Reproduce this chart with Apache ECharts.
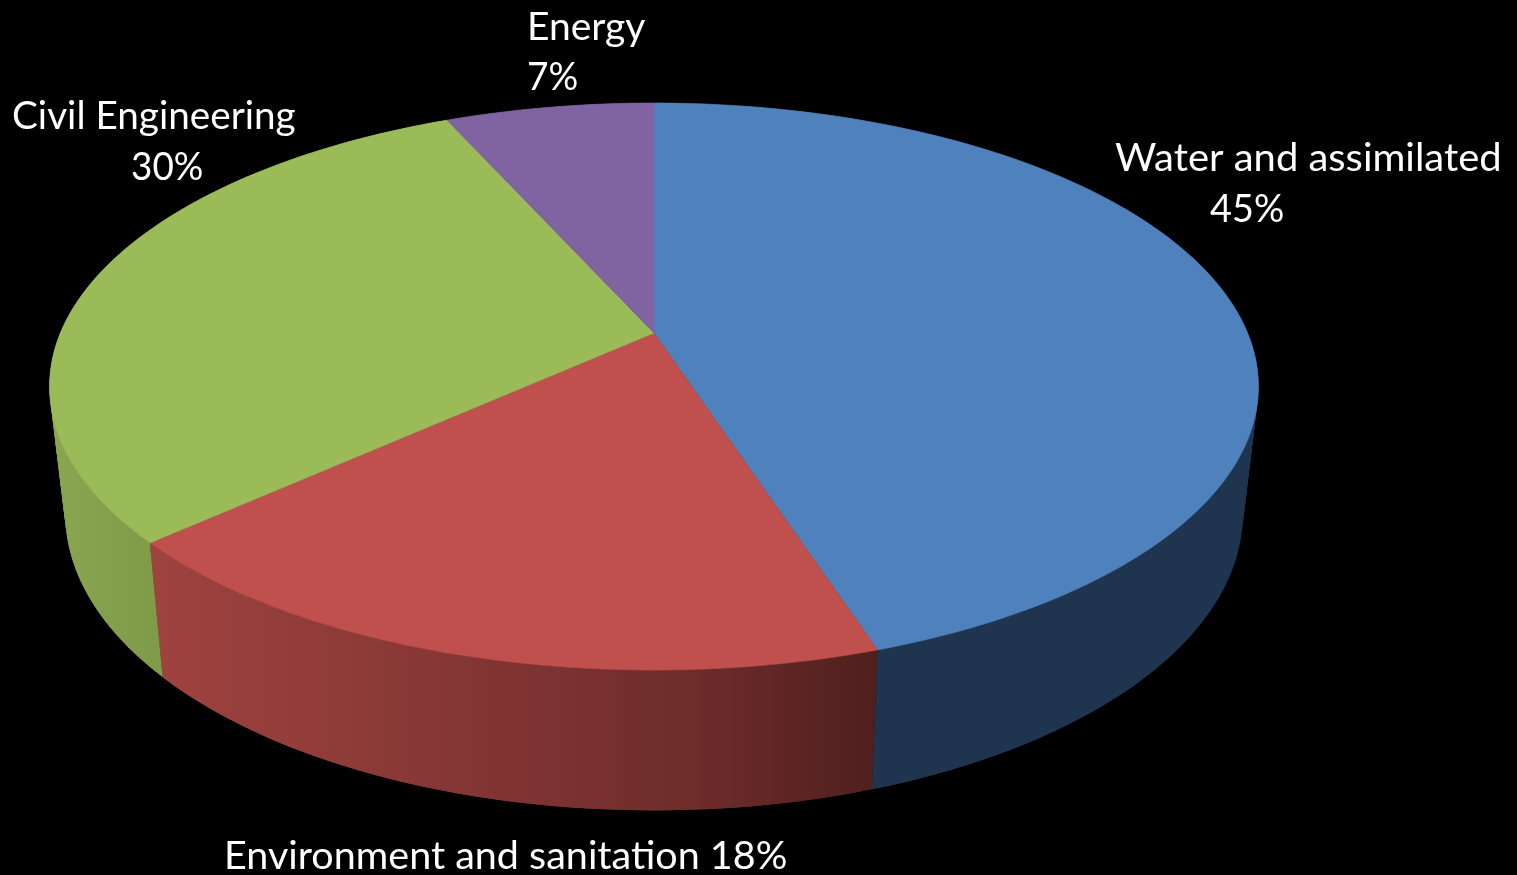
<!DOCTYPE html>
<html>
<head>
<meta charset="utf-8">
<style>html,body{margin:0;padding:0;background:#000;overflow:hidden}#c{width:1517px;height:875px}</style>
<script src="https://cdn.jsdelivr.net/npm/echarts@6/dist/echarts.min.js"></script>
</head>
<body>
<div id="c"></div>
<script>
// Data
var categories = ['Water and assimilated', 'Environment and sanitation', 'Civil Engineering', 'Energy'];
var shares = [45.0, 18.3, 30.0, 6.7];

// Styling
var topColors = ['#4f81bd', '#c0504d', '#9bbb59', '#8064a2'];
var sideStops = [
  [[0, '#1f344f'], [1, '#1f344f']],
  [[0, '#9f4340'], [0.4, '#863735'], [0.75, '#6e2c2b'], [1, '#4f1f1e']],
  [[0, '#8ba651'], [1, '#7f9a48']],
  [[0, '#4c3c61'], [1, '#4c3c61']]
];
var sideRange = [[872, 1260], [149, 877], [50, 163], [440, 654]];

// Perspective of the disc: top face and bottom rim
var topDisc = {cx: 654, cy: 333, a: 593.6, b: 273.4, k: 0.1887};
var botDisc = {cx: 654, cy: 457.3, a: 578, b: 286, k: 0.19};
function project(d, deg) {
  var t = deg * Math.PI / 180, u = Math.sin(t), v = -Math.cos(t), w = 1 - d.k * v;
  return [d.cx + d.a * u / w, d.cy + d.b * v / w];
}
function arc(d, from, to) {
  var pts = [], n = Math.max(8, Math.ceil(Math.abs(to - from)));
  for (var i = 0; i <= n; i++) pts.push(project(d, from + (to - from) * i / n));
  return pts;
}
var total = shares.reduce(function (s, x) { return s + x; }, 0);
function spanOf(i) {
  var before = 0;
  for (var j = 0; j < i; j++) before += shares[j];
  return [before / total * 360, (before + shares[i]) / total * 360];
}
function rows() { return shares.map(function (v, i) { return {name: categories[i], value: v}; }); }

function renderSide(params) {
  var i = params.dataIndex, s = spanOf(i), kids = [];
  var fill = new echarts.graphic.LinearGradient(sideRange[i][0], 0, sideRange[i][1], 0,
    sideStops[i].map(function (p) { return {offset: p[0], color: p[1]}; }), true);
  // ruled side wall: overlapping strips so the silhouette between the rims is filled
  for (var a = s[0]; a < s[1]; a += 1) {
    var b = Math.min(a + 2, s[1]);
    var p = [project(topDisc, a), project(topDisc, b), project(botDisc, b), project(botDisc, a)];
    kids.push({type: 'polygon', shape: {points: p}, silent: true, style: {fill: fill}});
  }
  return {type: 'group', children: kids};
}
function renderTop(params) {
  var i = params.dataIndex, s = spanOf(i);
  var pts = [[topDisc.cx, topDisc.cy]].concat(arc(topDisc, s[0], s[1]));
  return {type: 'polygon', shape: {points: pts}, silent: true,
    style: {fill: topColors[i], stroke: topColors[i], lineWidth: 0.6}};
}

// Label placement: left edge, baseline and horizontal fit of each text line
var labelLayout = [
  {name: [1115, 171, 1.024], pct: [1210, 222, 0.97]},
  {name: [224, 869, 1.013], pct: null},
  {name: [12, 129, 0.992], pct: [131, 180, 0.945]},
  {name: [527, 40, 1.0], pct: [527, 90, 0.95]}
];
var FONT_PX = 39, ASC = 32;
function txt(t, p) {
  return {type: 'text', x: p[0], y: p[1] - ASC, scaleX: p[2], silent: true,
    style: {text: t, x: 0, y: 0, fill: '#fff', font: FONT_PX + 'px Lato, Carlito, sans-serif', textAlign: 'left', textBaseline: 'top'}};
}
function renderLabel(params) {
  var i = params.dataIndex, L = labelLayout[i], pct = Math.round(shares[i] / total * 100) + '%';
  if (!L.pct) return {type: 'group', children: [txt(categories[i] + ' ' + pct, L.name)]};
  return {type: 'group', children: [txt(categories[i], L.name), txt(pct, L.pct)]};
}

var chart = echarts.init(document.getElementById('c'), null, {renderer: 'canvas'});
chart.setOption({
  backgroundColor: '#000',
  animation: false,
  tooltip: {show: false},
  series: [
    {type: 'custom', coordinateSystem: 'none', renderItem: renderSide, data: rows(), z: 1},
    {type: 'custom', coordinateSystem: 'none', renderItem: renderTop, data: rows(), z: 2},
    {type: 'custom', coordinateSystem: 'none', renderItem: renderLabel, data: rows(), z: 3}
  ]
});
</script>
</body>
</html>
